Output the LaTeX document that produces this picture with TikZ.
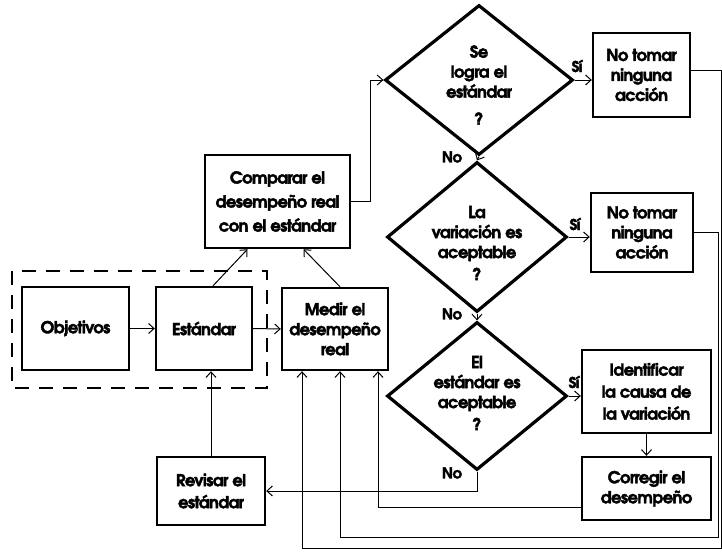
\documentclass[tikz,border=0pt]{standalone}
\usepackage{fontspec}
\setmainfont{texgyreadventor}[Extension=.otf,UprightFont=*-regular,BoldFont=*-bold,ItalicFont=*-italic,BoldItalicFont=*-bolditalic,BoldFeatures={FakeBold=2.2,LetterSpace=-4}]
\usetikzlibrary{shapes.geometric,arrows.meta,calc}

\begin{document}
\begin{tikzpicture}[x=1pt,y=-1pt,
  font=\bfseries\fontsize{16.5}{20}\selectfont,
  box/.style={draw, line width=2.4pt, inner sep=0pt, align=center},
  decision/.style={draw, diamond, line width=3.2pt, inner sep=0pt},
  dtext/.style={align=center, inner sep=0pt},
  lbl/.style={font=\bfseries\fontsize{15}{17}\selectfont, inner sep=0pt},
  arr/.style={line width=1pt, -{Straight Barb[length=5.5pt,width=10pt]}},
  group/.style={line width=1.4pt, dash pattern=on 14pt off 10pt}
]
\useasboundingbox (0,0) rectangle (722,551);

% standards group
\draw[group] (12,271) rectangle (267,388);

% boxes
\node[box, minimum width=107pt, minimum height=83pt] (obj) at (75.5,328.5) {Objetivos};
\node[box, minimum width=96pt,  minimum height=83pt] (est) at (204,328.5) {Estándar};
\node[box, minimum width=106pt, minimum height=82pt] (med) at (335,329) {Medir el\\desempeño\\real};
\node[box, minimum width=145pt, minimum height=93pt, font=\bfseries\fontsize{16.5}{24}\selectfont] (comp) at (277.5,201.5) {Comparar el\\desempeño real\\con el estándar};
\node[box, minimum width=108pt, minimum height=68pt, font=\bfseries\fontsize{16.5}{22}\selectfont] (rev) at (211,491) {Revisar el\\estándar};
\node[box, minimum width=97pt,  minimum height=84pt] (nt1) at (641.5,75) {No tomar\\ninguna\\acción};
\node[box, minimum width=102pt, minimum height=79pt] (nt2) at (642,232.5) {No tomar\\ninguna\\acción};
\node[box, minimum width=129pt, minimum height=83pt, font=\bfseries\fontsize{16.5}{22}\selectfont] (ide) at (646.5,391.5) {Identificar\\la causa de\\la variación};
\node[box, minimum width=129pt, minimum height=63pt] (cor) at (646.5,488.5) {Corregir el\\desempeño};

% decisions
\node[decision, minimum width=188pt, minimum height=150pt] (d1) at (479,80) {};
\node[decision, minimum width=180pt, minimum height=150pt] (d2) at (477,237) {};
\node[decision, minimum width=180pt, minimum height=148pt] (d3) at (477,396) {};
\node[dtext] (t1) at (479,85) {Se\\logra el\\estándar\\[7pt]?};
\node[dtext] (t2) at (477,243) {La\\variación es\\aceptable\\[2pt]?};
\node[dtext] (t3) at (477,393) {El\\estándar es\\aceptable\\[2pt]?};

% branch labels
\node[lbl] (s1) at (577,66) {Sí};
\node[lbl] (s2) at (575,224) {Sí};
\node[lbl] (s3) at (574,382) {Sí};
\node[lbl] (n1) at (452,157) {No};
\node[lbl] (n2) at (452,314) {No};
\node[lbl] (n3) at (452,473) {No};

% main flow
\draw[arr] (obj.east) -- (est.west);
\draw[arr] (est.east) -- (med.west);
\draw[arr] ([xshift=9pt]est.north) -- ([xshift=-30pt]comp.south);
\draw[arr] ([xshift=5pt]med.north) -- ([xshift=26pt]comp.south);
\draw[arr] (comp.east) -- ++(19,0) |- (d1.west);
\draw[arr] (d1.south) -- (d2.north);
\draw[arr] (d2.south) -- (d3.north);
\draw[arr] (d1.east) -- (nt1.west |- d1.east);
\draw[arr] (d2.east) -- (nt2.west |- d2.east);
\draw[arr] (d3.east) -- (ide.west |- d3.east);
\draw[arr] (ide.south -| cor.north) -- (cor.north);
\draw[arr] (d3.south) |- (rev.east);
\draw[arr] (rev.north) -- (rev.north |- est.south);

% feedback loops into the measurement box
\draw[arr] ($(cor.west)+(0,19)$) -| ($(med.south)+(43,0)$);
\draw[arr] (nt2.east) -- (718,232.5) -- (718,537) -| ($(med.south)+(5,0)$);
\draw[arr] ($(nt1.east)+(0,-5)$) -- (721,70) -- (721,548) -| ($(med.south)+(-33,0)$);
\end{tikzpicture}
\end{document}
